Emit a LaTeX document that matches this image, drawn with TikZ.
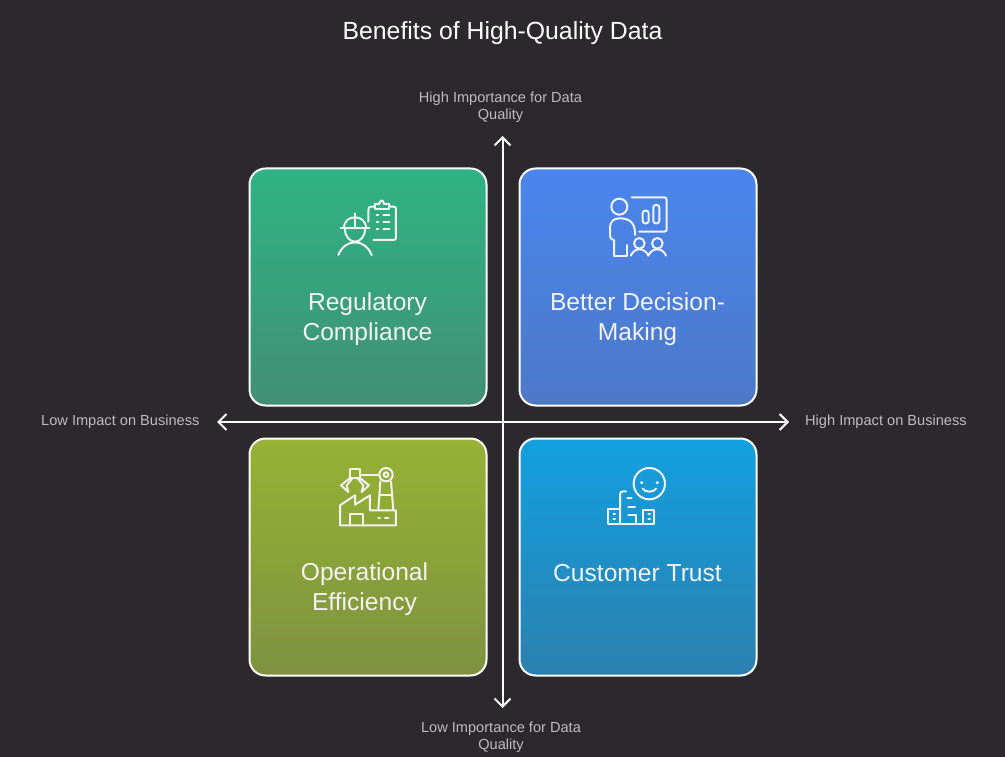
\documentclass[tikz,border=0pt]{standalone}
\usepackage{fontspec}
\setmainfont{Liberation Sans}
\usetikzlibrary{arrows.meta,calc}
\definecolor{bgc}{HTML}{2B292B}
\definecolor{axl}{HTML}{BDBDBD}
\definecolor{wht}{HTML}{F2F2F2}
\definecolor{ga}{HTML}{2FB385}\definecolor{gb}{HTML}{418F75}
\definecolor{ba}{HTML}{4A86EE}\definecolor{bb}{HTML}{4C78C6}
\definecolor{oa}{HTML}{97B234}\definecolor{ob}{HTML}{7F9140}
\definecolor{ca}{HTML}{12A0E0}\definecolor{cb}{HTML}{2C80AE}
\tikzset{
 card/.style={draw=white,line width=2pt,rounded corners=16pt,minimum width=237pt,minimum height=237pt,inner sep=0pt,anchor=north west},
 cardtext/.style={text=wht,font=\fontsize{24.6}{30}\selectfont,align=center,inner sep=0pt},
 axtext/.style={text=axl,font=\fontsize{14.6}{17}\selectfont,align=center,inner sep=0pt},
 titletext/.style={text=white,font=\fontsize{24.8}{28}\selectfont,inner sep=0pt},
 axisline/.style={draw=white,line width=2pt,{Straight Barb[length=8pt,width=16pt,line width=2pt]}-{Straight Barb[length=8pt,width=16pt,line width=2pt]}},
 ico/.style={draw=wht,line width=2pt,line cap=round,line join=round,fill=none},
 iconscale/.style={x=0.3333pt,y=-0.3333pt}
}
\begin{document}
\begin{tikzpicture}[x=1pt,y=-1pt]
\path[use as bounding box,fill=bgc] (0,0) rectangle (1005,757);
\node[titletext] (title) at (502.5,33) {Benefits of High-Quality Data};
% cards
\node[card,top color=ga,bottom color=gb] (c1) at (248.5,167.5) {};
\node[card,top color=ba,bottom color=bb] (c2) at (518.5,167.5) {};
\node[card,top color=oa,bottom color=ob] (c3) at (248.5,437.5) {};
\node[card,top color=ca,bottom color=cb] (c4) at (518.5,437.5) {};
\node[cardtext] (t1) at (367.5,319) {Regulatory\\Compliance};
\node[cardtext] (t2) at (637.5,319) {Better Decision-\\Making};
\node[cardtext] (t3) at (364.5,589) {Operational\\Efficiency};
\node[cardtext] (t4) at (637.5,573.5) {Customer Trust};
% axes
\coordinate (atop) at (502.5,136);
\coordinate (abot) at (502.5,708);
\coordinate (alft) at (217,422);
\coordinate (argt) at (789,422);
\draw[axisline] (atop) -- (abot);
\draw[axisline] (alft) -- (argt);
\node[axtext] (l1) at (500.5,107) {High Importance for Data\\Quality};
\node[axtext] (l2) at (501,737) {Low Importance for Data\\Quality};
\node[axtext,anchor=west] (l3) at (41,422) {Low Impact on Business};
\node[axtext,anchor=west] (l4) at (805,422) {High Impact on Business};
% icon 1
\begin{scope}[shift={(330,190)},iconscale]
\draw[ico] (32,115) -- (118,115);
\draw[ico] (42,115) .. controls (42,92) and (58,82) .. (75,82) .. controls (92,82) and (108,92) .. (108,115);
\draw[ico] (75,115) -- (75,70);
\draw[ico] (45,118) .. controls (45,140) and (60,155) .. (75,155) .. controls (90,155) and (105,140) .. (105,118);
\draw[ico] (25,195) .. controls (35,170) and (55,157) .. (75,157) .. controls (95,157) and (115,170) .. (125,195);
\draw[ico] (115,95) -- (115,60) .. controls (115,52) and (118,50) .. (125,50) -- (135,50) -- (135,42) -- (148,42) .. controls (150,28) and (160,28) .. (162,42) -- (178,42) -- (178,50) -- (190,50) .. controls (196,50) and (198,52) .. (198,58) -- (198,142) .. controls (198,148) and (196,150) .. (190,150) -- (130,150);
\draw[ico] (135,50) -- (135,56) -- (178,56) -- (178,50);
\foreach \yy in {75,97,118}{\draw[ico] (140,\yy) -- (145,\yy); \draw[ico] (160,\yy) -- (178,\yy);}
\end{scope}
% icon 2
\begin{scope}[shift={(600,190)},iconscale]
\draw[ico] (58,50) circle (24);
\draw[ico] (42,198) -- (42,150) .. controls (30,148) and (30,140) .. (30,130) -- (30,112) .. controls (30,95) and (42,85) .. (58,85) .. controls (85,85) and (103,95) .. (105,125) -- (105,135);
\draw[ico] (42,198) -- (80,198) -- (80,165);
\draw[ico] (95,22) -- (192,22) .. controls (198,22) and (200,24) .. (200,30) -- (200,118) .. controls (200,123) and (198,125) .. (192,125) -- (118,125);
\draw[ico,rounded corners=2.5pt] (128,62) rectangle (146,100);
\draw[ico,rounded corners=2.5pt] (160,45) rectangle (178,100);
\draw[ico] (118,160) circle (16);
\draw[ico] (172,160) circle (16);
\draw[ico] (92,197) .. controls (98,185) and (108,178) .. (118,178) .. controls (130,178) and (140,185) .. (145,197) .. controls (150,185) and (160,178) .. (172,178) .. controls (184,178) and (193,185) .. (198,197);
\end{scope}
% icon 3
\begin{scope}[shift={(330,462)},iconscale]
\draw[ico] (30,190) -- (30,130) -- (75,100) -- (75,128) -- (120,100) -- (120,145) -- (198,145) -- (198,190) -- cycle;
\draw[ico] (60,190) -- (60,155) -- (100,155) -- (100,190);
\draw[ico] (145,168) -- (150,168);
\draw[ico] (165,168) -- (175,168);
\draw[ico] (145,145) -- (151,58);
\draw[ico] (190,145) -- (183,58);
\draw[ico] (149,100) -- (186,100);
\draw[ico] (168,38) circle (20);
\draw[ico] (168,38) circle (7);
\draw[ico] (148,38) -- (90,38);
\draw[ico] (60,20) -- (90,20) -- (90,48) -- (60,48) -- cycle;
\draw[ico] (60,48) -- (33,70) -- (55,90) -- (50,70) -- (68,48);
\draw[ico] (90,48) -- (117,70) -- (95,90) -- (100,70) -- (82,48);
\end{scope}
% icon 4
\begin{scope}[shift={(600,462)},iconscale]
\draw[ico] (148,65) circle (47);
\fill[wht] (125,62) circle (5);
\fill[wht] (172,62) circle (5);
\draw[ico] (128,80) .. controls (135,92) and (161,92) .. (168,80);
\draw[ico] (25,185) -- (162,185) -- (162,145) -- (130,145) -- (130,185);
\draw[ico] (25,185) -- (25,140) -- (60,140);
\draw[ico] (60,185) -- (60,98) .. controls (60,91) and (63,88) .. (70,88) -- (78,88);
\draw[ico] (108,185) -- (108,160);
\draw[ico] (82,108) -- (95,108);
\draw[ico] (85,135) -- (105,135);
\draw[ico] (85,160) -- (108,160);
\foreach \yy in {155,170}{\draw[ico] (40,\yy) -- (45,\yy); \draw[ico] (145,\yy) -- (150,\yy);}
\end{scope}
\end{tikzpicture}
\end{document}
